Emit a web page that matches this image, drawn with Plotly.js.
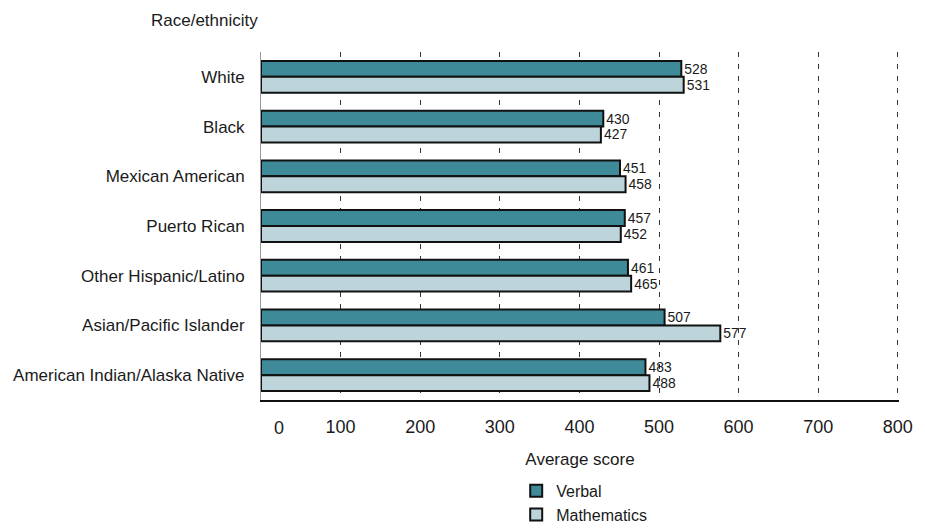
<!DOCTYPE html>
<html>
<head>
<meta charset="utf-8">
<script src="https://cdn.plot.ly/plotly-3.0.1.min.js"></script>
<style>html,body{margin:0;padding:0;background:#fff;}#chart{width:925px;height:530px;}</style>
</head>
<body>
<div id="chart"></div>
<script>
const categories = ["White", "Black", "Mexican American", "Puerto Rican", "Other Hispanic/Latino", "Asian/Pacific Islander", "American Indian/Alaska Native"];
const verbal = [528, 430, 451, 457, 461, 507, 483];
const mathematics = [531, 427, 458, 452, 465, 577, 488];
const seriesNames = ["Verbal", "Mathematics"];
const xTickVals = [0, 100, 200, 300, 400, 500, 600, 700, 800];
const xTickText = ["0", "100", "200", "300", "400", "500", "600", "700", "800"];

const FONT = "Liberation Sans, Arial, sans-serif";
const colors = ["#3e8a99", "#bdd4da"];

function barTrace(vals, name, color) {
  return {
    type: "bar", orientation: "h", name: name,
    y: categories, x: vals,
    text: vals.map(String), textposition: "outside", cliponaxis: false,
    textfont: {family: FONT, size: 14, color: "#1a1a1a"},
    marker: {color: color, line: {color: "#111", width: 2}},
    hoverinfo: "skip"
  };
}

const data = [
  barTrace(verbal, seriesNames[0], colors[0]),
  barTrace(mathematics, seriesNames[1], colors[1])
];

const layout = {
  width: 925, height: 530,
  margin: {l: 261, r: 26, t: 52, b: 130, autoexpand: false},
  paper_bgcolor: "#fff", plot_bgcolor: "#fff",
  font: {family: FONT, size: 17, color: "#1a1a1a"},
  barmode: "group", bargap: 0.36, bargroupgap: 0,
  showlegend: true,
  legend: {x: 0.40, xanchor: "left", yref: "container", y: 0.106, yanchor: "top", orientation: "v",
           font: {family: FONT, size: 16, color: "#1a1a1a"}, tracegroupgap: 0, itemwidth: 30, bgcolor: "rgba(0,0,0,0)"},
  xaxis: {
    range: [0, 801.5], tickvals: xTickVals.slice(1), ticktext: xTickText.slice(1),
    showgrid: true, griddash: "5px,7px", gridcolor: "#333", gridwidth: 1,
    zeroline: false, showline: true, linecolor: "#111", linewidth: 2,
    ticks: "", ticklabelstandoff: 9, automargin: false,
    tickfont: {family: FONT, size: 18, color: "#1a1a1a"},
    title: {text: "Average score", font: {family: FONT, size: 17, color: "#1a1a1a"}, standoff: 18}
  },
  yaxis: {
    type: "category", categoryorder: "array", categoryarray: categories,
    autorange: "reversed", showgrid: false, zeroline: false,
    showline: true, linecolor: "#999", linewidth: 1,
    ticks: "", ticklabelstandoff: 12, automargin: false,
    tickfont: {family: FONT, size: 17, color: "#1a1a1a"}
  },
  annotations: [
    {xref: "paper", yref: "paper", x: 0, y: 1, xanchor: "right", yanchor: "bottom",
     xshift: -1, yshift: 20, text: "Race/ethnicity", showarrow: false,
     font: {family: FONT, size: 17, color: "#1a1a1a"}},
    {xref: "x", yref: "paper", x: xTickVals[0], y: 0, xanchor: "center", yanchor: "top",
     xshift: 18, yshift: -16, text: xTickText[0], showarrow: false,
     font: {family: FONT, size: 18, color: "#1a1a1a"}}
  ]
};

Plotly.newPlot("chart", data, layout, {displayModeBar: false, staticPlot: true});
</script>
</body>
</html>
